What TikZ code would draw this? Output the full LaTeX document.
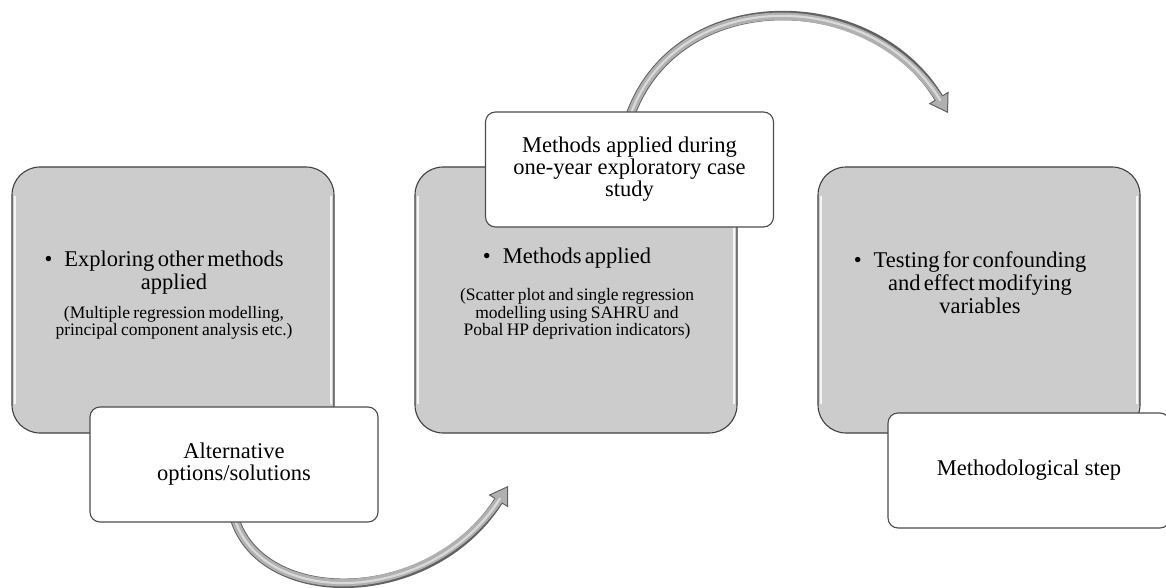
\documentclass[tikz,border=0pt]{standalone}
\usepackage{fontspec}
\setmainfont{Liberation Serif}
\usetikzlibrary{arrows.meta}
\pgfdeclarelayer{back}
\pgfsetlayers{back,main}

\tikzset{
  greypanel/.style={draw=black!75, line width=1.1pt, fill=gray!40,
    rounded corners=28pt, minimum width=322pt, minimum height=266pt, inner sep=0pt},
  sheen/.style={draw=white!92!gray, line width=1.6pt, line cap=round},
  tagbox/.style={draw=black!70, line width=1.1pt, fill=white, rounded corners=10pt,
    minimum width=288pt, minimum height=115pt, inner sep=0pt, align=center,
    font=\fontsize{22.5}{22}\selectfont},
  blurb/.style={text width=320pt, align=center, inner sep=0pt, anchor=north},
  arrowrim/.style={draw=black!62, line width=9.5pt,
    -{Triangle[width=23pt,length=18pt,line width=1pt,fill=gray!62]}},
  arrowfill/.style={draw=gray!62, line width=7.5pt, shorten >=11pt},
  arrowshine/.style={draw=gray!30, line width=2.2pt, shorten >=15pt, line cap=round},
}

\newcommand{\bigtxt}{\fontsize{22.5}{23}\selectfont}
\newcommand{\smalltxt}{\fontsize{17.5}{17.5}\selectfont}
\newcommand{\bul}{\llap{\textbullet\hspace{12pt}}}

\begin{document}
\begin{tikzpicture}[x=1pt,y=-1pt]
\useasboundingbox (0,0) rectangle (1166,588);

% three grey step panels
\node[greypanel] (p1) at (173,300) {};
\node[greypanel] (p2) at (576,300) {};
\node[greypanel] (p3) at (979,300) {};
\foreach \p in {p1,p2,p3} {
  \draw[sheen] ([xshift=3.5pt,yshift=-30pt]\p.north west) -- ([xshift=3.5pt,yshift=30pt]\p.south west);
  \draw[sheen] ([xshift=-3.5pt,yshift=-30pt]\p.north east) -- ([xshift=-3.5pt,yshift=30pt]\p.south east);
}

% panel contents
\node[blurb] (x1) at (174,251) {%
  {\bigtxt\bul Exploring other methods\\applied\par}
  \vspace{11pt}
  {\smalltxt (Multiple regression modelling,\\principal component analysis etc.)\par}};
\node[blurb] (x2) at (577,248) {%
  {\bigtxt\bul Methods applied\par}
  \vspace{19.5pt}
  {\smalltxt (Scatter plot and single regression\\modelling using SAHRU and\\Pobal HP deprivation indicators)\par}};
\node[blurb] (x3) at (980,251) {%
  {\bigtxt\bul Testing for confounding\\and effect modifying\\variables\par}};

% white caption boxes
\node[tagbox] (t1) at (234,464.5) {Alternative\\options/solutions};
\node[tagbox] (t2) at (629.5,169.5) {Methods applied during\\one-year exploratory case\\study};
\node[tagbox, minimum width=282pt] (t3) at (1029,470.5) {Methodological step};

% curved arrows behind everything
\begin{pgfonlayer}{back}
  \fill[white] (0,0) rectangle (1166,588);
  \coordinate (topend) at (948,113);
  \coordinate (lowend) at (508,486);
  \foreach \s in {arrowrim,arrowfill,arrowshine} {
    \draw[\s] ([yshift=-6pt]t2.north) .. controls (675,-15) and (870,-15) .. (topend);
    \draw[\s] ([yshift=6pt]t1.south) .. controls (260,608) and (430,608) .. (lowend);
  }
\end{pgfonlayer}
\end{tikzpicture}
\end{document}
